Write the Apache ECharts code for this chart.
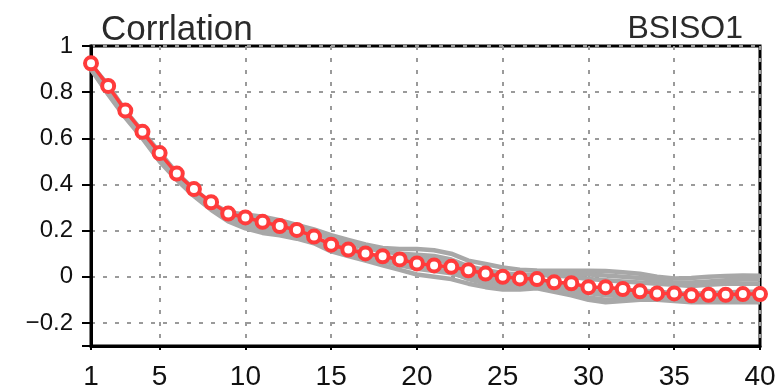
<!DOCTYPE html>
<html>
<head>
<meta charset="utf-8">
<title>Corrlation BSISO1</title>
<script src="https://cdn.jsdelivr.net/npm/echarts@6/dist/echarts.min.js"></script>
<style>
  html, body { margin: 0; padding: 0; background: #fff; }
  #chart { width: 779px; height: 391px; }
</style>
</head>
<body>
<div id="chart"></div>
<script>
// Lead time (days)
const days = Array.from({ length: 40 }, (_, i) => String(i + 1));

// Ensemble-mean correlation (red)
const meanCorr = [0.925, 0.827, 0.72, 0.628, 0.536, 0.447, 0.38, 0.323, 0.274, 0.257,
  0.238, 0.22, 0.203, 0.174, 0.139, 0.118, 0.101, 0.089, 0.075, 0.058,
  0.049, 0.043, 0.028, 0.014, 0.0, -0.007, -0.01, -0.024, -0.028, -0.045,
  -0.045, -0.053, -0.063, -0.072, -0.072, -0.08, -0.078, -0.078, -0.075, -0.075];

// Individual members (grey)
const member1 = [0.92, 0.83, 0.72, 0.63, 0.54, 0.45, 0.38, 0.32, 0.28, 0.27,
  0.26, 0.245, 0.225, 0.205, 0.18, 0.16, 0.14, 0.125, 0.12, 0.12,
  0.115, 0.10, 0.07, 0.055, 0.04, 0.03, 0.027, 0.026, 0.026, 0.026,
  0.025, 0.02, 0.013, 0.0, -0.007, -0.005, 0.0, 0.003, 0.005, 0.004];
const member2 = [0.90, 0.79, 0.69, 0.60, 0.50, 0.42, 0.35, 0.29, 0.24, 0.21,
  0.19, 0.18, 0.165, 0.145, 0.11, 0.09, 0.07, 0.05, 0.03, 0.01,
  0.0, -0.01, -0.03, -0.045, -0.055, -0.055, -0.05, -0.065, -0.08, -0.10,
  -0.11, -0.105, -0.10, -0.10, -0.105, -0.11, -0.11, -0.11, -0.11, -0.11];
const member3 = [0.915, 0.82, 0.71, 0.62, 0.53, 0.44, 0.37, 0.31, 0.27, 0.255,
  0.245, 0.23, 0.21, 0.19, 0.165, 0.145, 0.125, 0.11, 0.10, 0.095,
  0.09, 0.075, 0.045, 0.03, 0.015, 0.01, 0.008, 0.005, 0.0, -0.01,
  -0.015, -0.02, -0.025, -0.03, -0.035, -0.04, -0.035, -0.03, -0.03, -0.03];
const member4 = [0.905, 0.80, 0.70, 0.61, 0.51, 0.43, 0.36, 0.30, 0.25, 0.225,
  0.205, 0.195, 0.18, 0.16, 0.125, 0.105, 0.085, 0.068, 0.05, 0.035,
  0.025, 0.015, -0.005, -0.02, -0.03, -0.035, -0.032, -0.045, -0.055, -0.07,
  -0.08, -0.08, -0.075, -0.08, -0.085, -0.09, -0.085, -0.085, -0.085, -0.09];
const member5 = [0.90, 0.795, 0.695, 0.605, 0.505, 0.425, 0.355, 0.295, 0.245, 0.215,
  0.20, 0.19, 0.175, 0.155, 0.12, 0.10, 0.085, 0.075, 0.07, 0.07,
  0.072, 0.06, 0.035, 0.02, 0.01, 0.005, 0.01, 0.012, 0.015, 0.01,
  0.005, 0.0, -0.005, -0.015, -0.025, -0.025, -0.02, -0.015, -0.012, -0.012];
const member6 = [0.92, 0.825, 0.715, 0.625, 0.535, 0.445, 0.375, 0.315, 0.275, 0.26,
  0.25, 0.235, 0.215, 0.195, 0.16, 0.13, 0.10, 0.08, 0.06, 0.045,
  0.035, 0.02, -0.01, -0.03, -0.045, -0.05, -0.045, -0.055, -0.07, -0.09,
  -0.10, -0.095, -0.09, -0.09, -0.095, -0.10, -0.10, -0.10, -0.10, -0.10];
const member7 = [0.91, 0.81, 0.705, 0.615, 0.52, 0.435, 0.365, 0.305, 0.26, 0.24,
  0.225, 0.21, 0.195, 0.17, 0.14, 0.115, 0.095, 0.085, 0.08, 0.08,
  0.078, 0.065, 0.03, 0.01, -0.005, -0.015, -0.02, -0.03, -0.04, -0.05,
  -0.06, -0.06, -0.06, -0.065, -0.07, -0.075, -0.07, -0.068, -0.065, -0.065];
const member8 = [0.908, 0.805, 0.70, 0.612, 0.515, 0.432, 0.36, 0.30, 0.255, 0.23,
  0.215, 0.20, 0.185, 0.165, 0.13, 0.11, 0.095, 0.08, 0.065, 0.055,
  0.05, 0.035, 0.01, -0.005, -0.02, -0.025, -0.025, -0.035, -0.04, -0.055,
  -0.06, -0.065, -0.07, -0.075, -0.08, -0.085, -0.08, -0.078, -0.075, -0.075];

const members = [member1, member2, member3, member4, member5, member6, member7, member8];

const titleLeft = 'Corrlation';
const titleRight = 'BSISO1';

const labelDay = (idx) => idx === 0 || (idx + 1) % 5 === 0;
const gridDay = (idx) => (idx + 1) % 5 === 0;

const chart = echarts.init(document.getElementById('chart'), null, { renderer: 'canvas' });

const greySeries = members.map((m, k) => ({
  name: 'member' + (k + 1),
  type: 'line',
  data: m,
  symbol: 'none',
  silent: true,
  z: 2,
  lineStyle: { color: '#a8a8a8', width: 4.5 }
}));

chart.setOption({
  animation: false,
  backgroundColor: '#fff',
  title: [
    {
      text: titleLeft, left: 96, top: 8,
      textStyle: { fontFamily: 'Liberation Sans', fontSize: 35, fontWeight: 'normal', color: '#2a2a2a' }
    },
    {
      text: titleRight, right: 31, top: 8,
      textStyle: { fontFamily: 'Liberation Sans', fontSize: 32, fontWeight: 'normal', color: '#2a2a2a' }
    }
  ],
  grid: {
    left: 91, right: 19, top: 46, bottom: 39,
    show: true, borderColor: '#000', borderWidth: 3, backgroundColor: 'transparent'
  },
  xAxis: {
    type: 'category',
    data: days,
    boundaryGap: false,
    axisLine: { onZero: false, lineStyle: { color: '#000', width: 3 } },
    axisTick: { show: true, interval: labelDay, length: 4, lineStyle: { color: '#000', width: 2 } },
    axisLabel: {
      interval: labelDay, margin: 17,
      fontFamily: 'Liberation Sans', fontSize: 28, color: '#111'
    },
    splitLine: {
      show: true, interval: gridDay,
      lineStyle: { color: '#9a9a9a', width: 2, type: [4, 8] }
    }
  },
  yAxis: {
    type: 'value',
    min: -0.3, max: 1,
    splitNumber: 6, minInterval: 0.2, maxInterval: 0.2,
    axisLine: { show: true, onZero: false, lineStyle: { color: '#000', width: 3 } },
    axisTick: { show: true, length: 9, lineStyle: { color: '#000', width: 2 } },
    axisLabel: {
      margin: 18,
      fontFamily: 'Liberation Sans', fontSize: 24, color: '#111',
      formatter: (v) => {
        const r = Math.round(v * 10) / 10;
        if (Math.abs(r + 0.3) < 1e-6) return '';
        if (r === 0) return '0';
        if (r === 1) return '1';
        return r.toFixed(1).replace('-', '\u2212');
      }
    },
    splitLine: { show: true, lineStyle: { color: '#9a9a9a', width: 2, type: [4, 8] } }
  },
  series: greySeries.concat([{
    name: 'mean',
    type: 'line',
    data: meanCorr,
    z: 5,
    symbol: 'circle',
    symbolSize: 12,
    showAllSymbol: true,
    lineStyle: { color: '#ff3b3b', width: 3.5 },
    itemStyle: { color: '#fff', borderColor: '#ff3b3b', borderWidth: 4 }
  }])
});
</script>
</body>
</html>
